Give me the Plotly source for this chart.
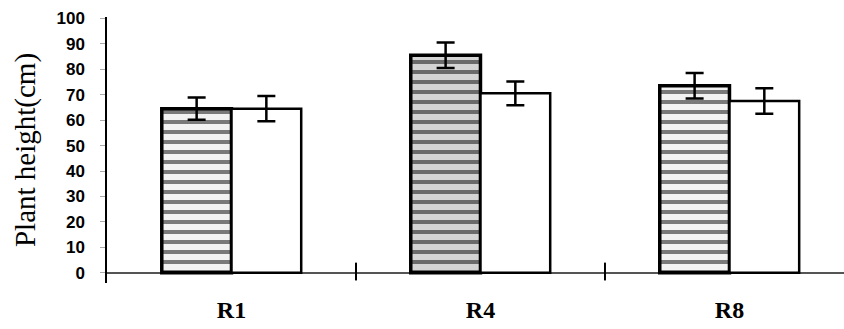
import plotly.graph_objects as go

# Plant height by treatment group
categories = ["R1", "R4", "R8"]
x_pos = [0, 1, 2]
treated = [64.5, 85.5, 73.5]
treated_err = [4.4, 5.0, 5.0]
control = [64.5, 70.5, 67.5]
control_err = [5.0, 4.7, 5.0]
y_ticks = [0, 10, 20, 30, 40, 50, 60, 70, 80, 90, 100]

fig = go.Figure()

fig.add_trace(go.Bar(
    x=x_pos, y=treated,
    marker=dict(
        color="#f4f4f4",
        line=dict(color="black", width=3.5),
        pattern=dict(shape="-", fgcolor="#000000",
                     bgcolor=["#f2f2f2", "#d4d4d4", "#f2f2f2"],
                     size=10, solidity=0.4),
    ),
    error_y=dict(type="data", array=treated_err, color="black",
                 thickness=2.5, width=9),
    showlegend=False,
))

fig.add_trace(go.Bar(
    x=x_pos, y=control,
    marker=dict(color="white", line=dict(color="black", width=2.5)),
    error_y=dict(type="data", array=control_err, color="black",
                 thickness=2.5, width=9),
    showlegend=False,
))

# Group separators on the category axis
for sep in [0.5, 1.5]:
    fig.add_shape(type="line", xref="x", yref="y", x0=sep, x1=sep,
                  y0=-3, y1=4, line=dict(color="black", width=2))

fig.update_layout(
    width=844, height=329,
    margin=dict(l=107, r=0, t=17, b=46),
    paper_bgcolor="white", plot_bgcolor="white",
    barmode="group", bargap=0.44, bargroupgap=0,
    xaxis=dict(
        range=[-0.5, 2.46],
        tickmode="array", tickvals=x_pos, ticktext=categories,
        showgrid=False, zeroline=False, showline=False, ticks="",
        tickfont=dict(family="Liberation Serif", size=24, color="black",
                      weight="bold"),
        ticklabelstandoff=10,
    ),
    yaxis=dict(
        range=[-4, 100.5],
        tickmode="array", tickvals=y_ticks,
        showgrid=False,
        zeroline=True, zerolinecolor="#555555", zerolinewidth=1.5,
        showline=True, linecolor="black", linewidth=1.5,
        ticks="outside", ticklen=5, tickcolor="#aaaaaa",
        tickfont=dict(family="Liberation Sans", size=17, color="black",
                      weight="bold"),
        ticklabelstandoff=12,
        title=dict(text="Plant height(cm)", standoff=12,
                   font=dict(family="Liberation Serif", size=29, color="black")),
    ),
)

fig.write_html("out.html")
